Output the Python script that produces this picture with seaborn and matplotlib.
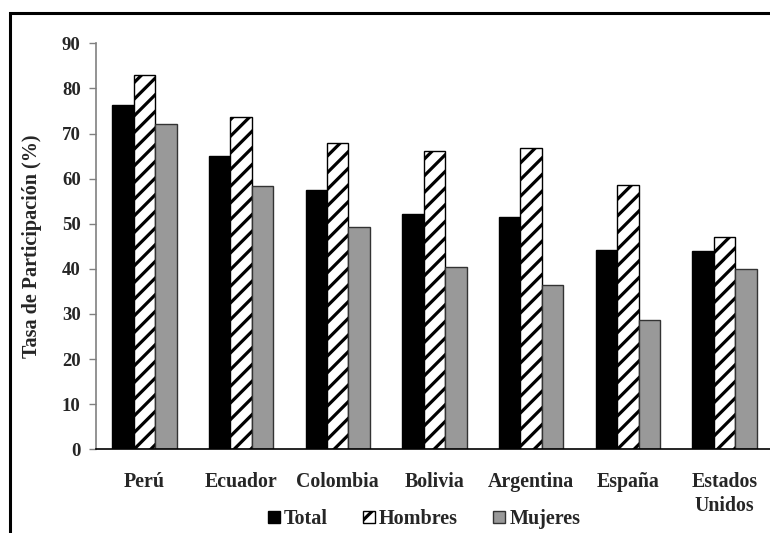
import matplotlib
matplotlib.use("Agg")
import matplotlib.pyplot as plt
import matplotlib.patches as mpatches
import seaborn as sns
import pandas as pd

categories = ["Perú", "Ecuador", "Colombia", "Bolivia", "Argentina", "España", "Estados\nUnidos"]
total = [76.4, 65.1, 57.5, 52.2, 51.5, 44.3, 44.0]
hombres = [82.9, 73.7, 67.9, 66.2, 66.7, 58.5, 47.0]
mujeres = [72.1, 58.3, 49.4, 40.5, 36.4, 28.7, 39.9]
series = ["Total", "Hombres", "Mujeres"]
yticks = [0, 10, 20, 30, 40, 50, 60, 70, 80, 90]
ylabel = "Tasa de Participación (%)"

sns.set_theme(style="white")
plt.rcParams["font.family"] = ["Liberation Serif", "DejaVu Serif"]
plt.rcParams["font.weight"] = "bold"
plt.rcParams["hatch.linewidth"] = 2.3

df = pd.DataFrame({
    "Pais": categories * 3,
    "Serie": sum([[s] * len(categories) for s in series], []),
    "Valor": total + hombres + mujeres,
})

fig = plt.figure(figsize=(7.7, 5.33), dpi=100)
ax = fig.add_axes([96 / 770, 83.7 / 533, 7 * 96.7 / 770, 405.9 / 533])

colors = ["#000000", "#ffffff", "#999999"]
sns.barplot(data=df, x="Pais", y="Valor", hue="Serie", hue_order=series,
            order=categories, palette=colors, width=0.667, gap=0,
            saturation=1, ax=ax, legend=False, errorbar=None)

edgecols = ["#000000", "#000000", "#333333"]
hatches = [None, "//", None]
for cont, ec, h in zip(ax.containers, edgecols, hatches):
    for p in cont:
        p.set_edgecolor(ec)
        p.set_linewidth(1.0)
        if h:
            p.set_hatch(h)

ax.set_ylim(0, 90)
ax.set_xlim(-0.5, 6.5)
ax.set_yticks(yticks)
ax.set_yticklabels([str(v) for v in yticks], fontsize=13.5, fontweight="bold")
ax.set_xticks(range(len(categories)))
ax.set_xticklabels(categories, fontsize=14.3, fontweight="bold", linespacing=1.3)
ax.set_xticks([i - 0.5 for i in range(len(categories) + 1)], minor=True)
ax.tick_params(axis="x", which="major", length=0, pad=16)
ax.tick_params(axis="x", which="minor", length=5, width=1, color="#555555", direction="out")
ax.tick_params(axis="y", which="major", length=5, width=1, color="#808080", direction="out", pad=6, left=True)
ax.set_xlabel("")
ax.set_ylabel(ylabel, fontsize=14.5, fontweight="bold")
ax.yaxis.set_label_coords(-(96 - 42) / (7 * 96.7), 0.5)

for s in ["top", "right"]:
    ax.spines[s].set_visible(False)
ax.spines["left"].set_color("#808080")
ax.spines["left"].set_linewidth(1.2)
ax.spines["bottom"].set_color("#000000")
ax.spines["bottom"].set_linewidth(1.2)

handles = [
    mpatches.Patch(facecolor="#000000", edgecolor="#000000", label="Total"),
    mpatches.Patch(facecolor="#ffffff", edgecolor="#000000", hatch="//", label="Hombres"),
    mpatches.Patch(facecolor="#999999", edgecolor="#333333", label="Mujeres"),
]
leg = ax.legend(handles=handles, loc="center", bbox_to_anchor=((424 - 96) / (7 * 96.7), -0.172),
                ncol=3, frameon=False, handlelength=0.6, handleheight=0.6,
                handletextpad=0.2, columnspacing=1.75,
                prop={"family": "Liberation Serif", "weight": "bold", "size": 14.5})

border = mpatches.Rectangle((9.5 / 770, -0.2), 1.5, 0.2 + (1 - 13 / 533),
                            transform=fig.transFigure, fill=False,
                            edgecolor="black", linewidth=2.2, clip_on=False)
fig.patches.append(border)

fig.savefig("out.png", dpi=100)
